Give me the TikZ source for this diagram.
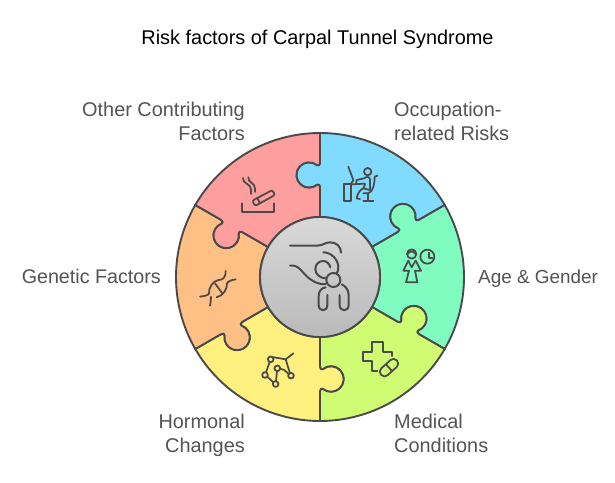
\documentclass[tikz,border=0pt]{standalone}
\usepackage{fontspec}
\setmainfont{Liberation Sans}
\definecolor{ink}{HTML}{4A4A4A}
\definecolor{lab}{HTML}{545454}
\definecolor{cRed}{HTML}{FF9E9E}
\definecolor{cBlue}{HTML}{80DBFF}
\definecolor{cMint}{HTML}{80FCC0}
\definecolor{cLime}{HTML}{D0FC74}
\definecolor{cYel}{HTML}{FFF080}
\definecolor{cOra}{HTML}{FFC085}
\tikzset{
 piece/.style={draw=ink,line width=1.9pt,line join=round},
 lbl/.style={text=lab,font=\fontsize{19.9}{24.5}\selectfont,inner sep=0pt},
 ico/.style={draw=ink,line width=1.75pt,line cap=round,line join=round},
 cen/.style={draw=ink,line width=2pt,line cap=round,line join=round},
}
% piece: #1 rotation (clockwise degrees), #2 colour
\newcommand{\puzzle}[2]{%
 \begin{scope}[shift={(320,205)},rotate=-#1]
 \path[piece,fill=#2] (0,60) -- (0,89.5)
   .. controls (0,92) and (-1.3,93.2) .. (-2.8,92.3)
   arc[start angle=-50,end angle=-310,radius=12.7]
   .. controls (-1.3,110.8) and (0,112) .. (0,114.5)
   -- (0,144) arc[start angle=90,end angle=30,radius=144]
   -- ([rotate=-60]0,114.5)
   .. controls ([rotate=-60]0,112) and ([rotate=-60]-1.3,110.8) .. ([rotate=-60]-2.8,111.7)
   arc[start angle=-10,end angle=250,radius=12.7]
   .. controls ([rotate=-60]-1.3,93.2) and ([rotate=-60]0,92) .. ([rotate=-60]0,89.5)
   -- ([rotate=-60]0,60)
   arc[start angle=30,end angle=90,radius=60] -- cycle;
 \end{scope}}
\begin{document}
\begin{tikzpicture}[x=1pt,y=1pt]
\useasboundingbox (0,0) rectangle (615,482);
\fill[white] (0,0) rectangle (615,482);
\puzzle{0}{cBlue}
\puzzle{60}{cMint}
\puzzle{120}{cLime}
\puzzle{180}{cYel}
\puzzle{240}{cOra}
\puzzle{300}{cRed}
\path[draw=ink,line width=1.9pt,top color=black!15,bottom color=black!27] (320,205) circle[radius=60];

\node[anchor=center,inner sep=0pt,font=\fontsize{19.9}{22}\selectfont] (title) at (317.5,443) {Risk factors of Carpal Tunnel Syndrome};
\node[lbl,anchor=east,align=right] (other) at (245,358.5) {\strut Other Contributing\\\strut Factors};
\node[lbl,anchor=west,align=left] (occ) at (394,358.5) {\strut Occupation-\\\strut related Risks};
\node[lbl,anchor=west,font=\fontsize{18.9}{24.5}\selectfont] (age) at (478,203) {\strut Age \& Gender};
\node[lbl,anchor=east,font=\fontsize{19.7}{24.5}\selectfont] (gen) at (161,203) {\strut Genetic Factors};
\node[lbl,anchor=east,align=right] (hor) at (245,46.5) {\strut Hormonal\\\strut Changes};
\node[lbl,anchor=west,align=left] (med) at (394,46.5) {\strut Medical\\\strut Conditions};

% icons in zoomed pixel units (y downward)
\begin{scope}[yshift=482pt,yscale=-1]
% centre figure
\begin{scope}[shift={(255,210)},scale=1/3]
 \draw[cen] (105,107) -- (185,107) .. controls (205,107) and (210,97) .. (225,97) .. controls (245,97) and (258,110) .. (258,128);
 \draw[cen] (205,127) .. controls (230,127) and (250,150) .. (250,172) .. controls (250,180) and (248,186) .. (245,190);
 \draw[cen] (105,167) .. controls (135,163) and (140,190) .. (165,207) .. controls (180,218) and (195,224) .. (212,222);
 \draw[cen] (212,205) .. controls (195,205) and (181,192) .. (181,178) .. controls (181,162) and (192,153) .. (205,153) .. controls (215,153) and (224,162) .. (226,172);
 \draw[cen] (235,210) circle[radius=21];
 \draw[cen] (212,232) .. controls (198,234) and (191,245) .. (191,258) -- (191,285) .. controls (191,306) and (217,306) .. (217,285) -- (217,255);
 \draw[cen] (254,255) -- (254,285) .. controls (254,306) and (281,306) .. (281,285) -- (281,255) .. controls (281,240) and (272,228) .. (260,223);
\end{scope}
% occupation
\begin{scope}[shift={(320,125)},scale=1/3]
 \draw[ico] (143,140) circle[radius=11];
 \draw[ico] (85,125) -- (100,165);
 \draw[ico] (92,178) -- (100,165);
 \draw[ico] (72,228) -- (72,178) -- (92,178) -- (92,228) -- cycle;
 \draw[ico] (92,178) -- (135,176);
 \draw[ico] (108,178) -- (110,165) -- (132,160) .. controls (142,153) and (150,155) .. (150,165) -- (150,195) -- (130,190) .. controls (118,195) and (112,208) .. (110,220) -- (120,222);
 \draw[ico] (135,178) -- (130,190);
 \draw[ico] (172,152) -- (164,155) .. controls (164,175) and (160,200) .. (145,205) -- (130,205);
 \draw[ico] (145,205) -- (145,228);
 \draw[ico] (130,228) -- (160,228);
\end{scope}
% age and gender
\begin{scope}[shift={(395,240)},scale=1/3]
 \draw[ico] (97,50) circle[radius=21];
 \draw[ico] (102,38) -- (102,54) -- (112,54);
 \draw[ico] (50,42) circle[radius=14];
 \draw[ico] (38,42) .. controls (44,32) and (56,32) .. (62,42);
 \draw[ico] (40,62) -- (50,82) -- (62,62);
 \draw[ico] (40,62) -- (25,92) -- (42,92) -- (33,127) -- (67,127) -- (60,92) -- (78,92) -- (62,62);
\end{scope}
% medical
\begin{scope}[shift={(320,275)},scale=1/3]
 \draw[ico] (172,287) -- (155,287) -- (155,258) -- (128,258) -- (128,230) -- (155,230) -- (155,200) -- (188,200) -- (188,230) -- (215,230) -- (215,243);
 \begin{scope}[shift={(207,278)},rotate=-42]
  \draw[ico,rounded corners=4.4pt] (-32,-14) rectangle (32,14);
  \draw[ico] (0,-14) -- (0,14);
 \end{scope}
\end{scope}
% hormonal
\begin{scope}[shift={(255,345)},scale=1/3]
 \draw[ico] (52,36) -- (92,43) -- (115,25);
 \draw[ico] (92,43) -- (105,85);
 \draw[ico] (44,51) -- (33,82);
 \draw[ico] (37,95) -- (55,112);
 \draw[ico] (63,109) -- (66,78);
 \draw[ico] (75,71) -- (88,75) -- (101,87);
 \foreach \p in {(47,43),(30,90),(62,117),(67,70),(108,92)} \draw[ico] \p circle[radius=8.5];
\end{scope}
% genetic
\begin{scope}[shift={(195,265)},scale=1/3]
 \draw[ico] (15,95) .. controls (30,93) and (42,90) .. (42,85) .. controls (40,68) and (55,48) .. (70,45) .. controls (82,45) and (92,40) .. (92,18);
 \draw[ico] (45,122) .. controls (48,110) and (47,100) .. (48,95);
 \draw[ico] (65,97) .. controls (85,92) and (97,72) .. (96,55) .. controls (100,48) and (110,45) .. (122,43);
 \draw[ico] (60,55) -- (82,85);
\end{scope}
% smoking
\begin{scope}[shift={(235,170)},scale=1/3]
 \draw[ico] (22,100) -- (22,125) -- (118,125) -- (118,100);
 \draw[ico,rounded corners=2pt] (52,92) -- (112,60) -- (120,75) -- (60,108) -- cycle;
 \draw[ico] (67,84) -- (75,100);
 \draw[ico] (24,24) .. controls (22,42) and (48,40) .. (48,58) -- (48,72);
 \draw[ico] (40,22) .. controls (38,38) and (60,38) .. (60,55) -- (60,66);
\end{scope}
\end{scope}
\end{tikzpicture}
\end{document}
